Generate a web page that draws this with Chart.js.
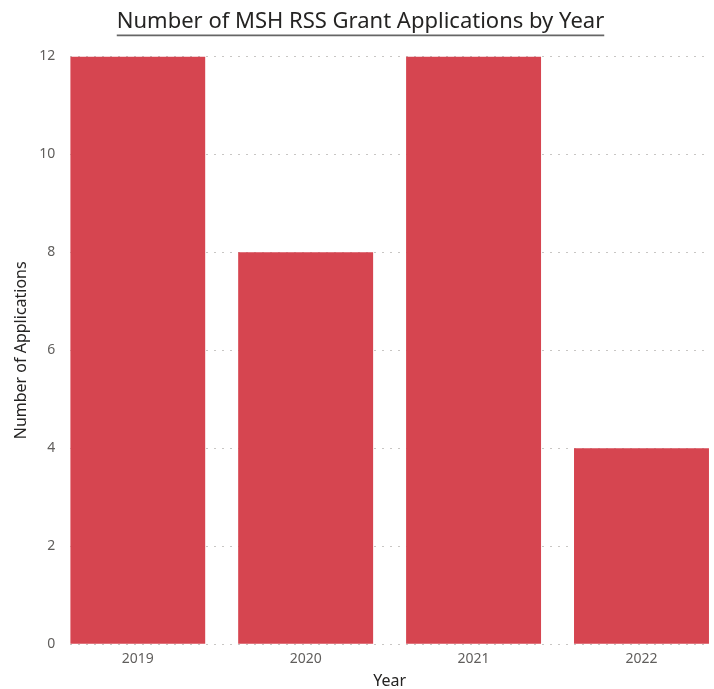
<!DOCTYPE html>
<html>
<head>
<meta charset="utf-8">
<script src="https://cdn.jsdelivr.net/npm/chart.js@4"></script>
<style>
  html, body { margin: 0; padding: 0; background: #fff; }
  #wrap { width: 714px; height: 689px; }
</style>
</head>
<body>
<div id="wrap"><canvas id="grantChart" width="714" height="689"></canvas></div>
<script>
const years = ["2019", "2020", "2021", "2022"];
const applications = [12, 8, 12, 4];
const yTicks = [0, 2, 4, 6, 8, 10, 12];

// underline the title like the original report visual
const underlineTitle = {
    id: 'underlineTitle',
    afterDraw(chart) {
        const t = chart.titleBlock;
        if (!t) return;
        const ctx = chart.ctx;
        ctx.save();
        ctx.font = "22px 'Noto Sans'";
        const w = ctx.measureText(t.options.text).width;
        const cx = (t.left + t.right) / 2;
        const y = t.top + t.height - t.options.padding.bottom;
        ctx.strokeStyle = '#666';
        ctx.lineWidth = 1.6;
        ctx.beginPath();
        ctx.moveTo(cx - w / 2, y);
        ctx.lineTo(cx + w / 2, y);
        ctx.stroke();
        ctx.restore();
    }
};

// numeric x so the outer bars sit flush with the plot edges (Power BI style)
new Chart(document.getElementById('grantChart'), {
    type: 'bar',
    data: {
        datasets: [{
            data: applications.map((v, i) => ({ x: i, y: v })),
            backgroundColor: '#D64550',
            barPercentage: 0.8036,
            categoryPercentage: 1.0
        }]
    },
    options: {
        responsive: false,
        maintainAspectRatio: false,
        animation: false,
        layout: { padding: { left: 12, right: 5, top: 8, bottom: 0 } },
        plugins: {
            legend: { display: false },
            tooltip: { enabled: false },
            title: {
                display: true,
                text: 'Number of MSH RSS Grant Applications by Year',
                color: '#252423',
                font: { family: "'Noto Sans'", size: 22, weight: 'normal' },
                padding: { top: 1, bottom: 21 }
            }
        },
        scales: {
            x: {
                type: 'linear',
                offset: false,
                min: -0.402,
                max: 3.402,
                afterBuildTicks(axis) { axis.ticks = years.map((y, i) => ({ value: i })); },
                grid: { display: false, drawTicks: false },
                border: { display: false },
                ticks: {
                    color: '#605E5C',
                    font: { family: "'Noto Sans'", size: 14 },
                    padding: 6,
                    maxRotation: 0,
                    callback: (v) => years[v]
                },
                title: {
                    display: true,
                    text: 'Year',
                    color: '#252423',
                    font: { family: "'Noto Sans'", size: 16, lineHeight: 1 },
                    padding: { top: 0, bottom: 0 }
                }
            },
            y: {
                min: 0,
                max: 12,
                afterBuildTicks(axis) { axis.ticks = yTicks.map(v => ({ value: v })); },
                grid: { color: '#C8C6C4', lineWidth: 1, drawTicks: false },
                border: { display: false, dash: [2, 6] },
                ticks: { color: '#605E5C', font: { family: "'Noto Sans'", size: 14 }, padding: 15 },
                title: {
                    display: true,
                    text: 'Number of Applications',
                    color: '#252423',
                    font: { family: "'Noto Sans'", size: 16 },
                    padding: { top: 0, bottom: -7 }
                }
            }
        }
    },
    plugins: [underlineTitle]
});
</script>
</body>
</html>
